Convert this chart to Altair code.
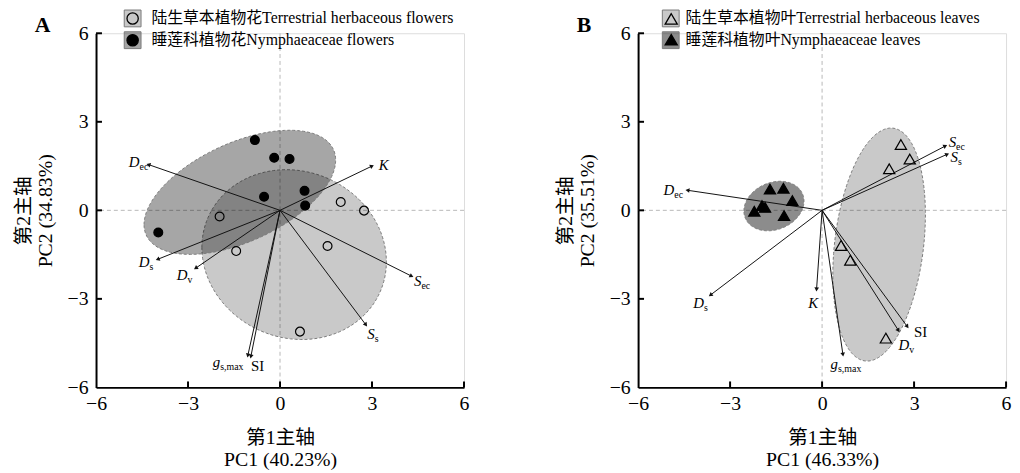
import altair as alt
import numpy as np
import pandas as pd

FONT = "Liberation Serif, Noto Sans CJK SC"
W, H = 372, 358
SX, SY = W / 12.0, H / 12.0

# ---------------- Panel A data (flowers) ----------------
A_groups = ["陆生草本植物花Terrestrial herbaceous flowers", "睡莲科植物花Nymphaeaceae flowers"]
A_terr_x = [-1.97, 1.98, 2.74, -1.43, 1.55, 0.65]
A_terr_y = [-0.21, 0.28, -0.01, -1.38, -1.21, -4.11]
A_nym_x = [-0.82, -0.19, 0.31, 0.80, 0.82, -0.52, -3.97]
A_nym_y = [2.38, 1.78, 1.74, 0.66, 0.16, 0.46, -0.75]

A_arrow_main = ["D", "K", "D", "D", "S", "S", "g", "SI"]
A_arrow_sub = ["ec", "", "s", "v", "ec", "s", "s,max", ""]
A_arrow_italic = [True, True, True, True, True, True, True, False]
A_tip_x = [-4.29, 3.00, -3.99, -2.75, 4.29, 2.80, -1.05, -0.95]
A_tip_y = [1.55, 1.50, -1.66, -1.96, -2.23, -3.88, -4.92, -4.95]
A_lab_x = [-4.58, 3.54, -4.26, -3.02, 4.61, 3.09, -1.95, -0.52]
A_lab_y = [1.64, 1.53, -1.75, -2.20, -2.40, -4.19, -5.15, -5.29]

# ellipse params: centre x, centre y, semi-major, semi-minor, angle (deg)
A_ell_cx = [0.46, -1.31]
A_ell_cy = [-1.50, 0.61]
A_ell_a = [3.08, 3.38]
A_ell_b = [2.80, 1.66]
A_ell_ang = [-31, 26]
A_ell_fill = ["rgba(0,0,0,0.21)", "rgba(0,0,0,0.35)"]

# ---------------- Panel B data (leaves) ----------------
B_groups = ["陆生草本植物叶Terrestrial herbaceous leaves", "睡莲科植物叶Nymphaeaceae leaves"]
B_terr_x = [2.57, 2.86, 2.19, 0.62, 0.92, 2.08]
B_terr_y = [2.23, 1.74, 1.41, -1.19, -1.69, -4.33]
B_nym_x = [-1.70, -1.26, -0.97, -1.96, -1.86, -2.21, -1.24]
B_nym_y = [0.72, 0.75, 0.33, 0.16, 0.10, -0.03, -0.18]

B_arrow_main = ["D", "S", "S", "D", "K", "g", "D", "SI"]
B_arrow_sub = ["ec", "ec", "s", "s", "", "s,max", "v", ""]
B_arrow_italic = [True, True, True, True, True, True, True, False]
B_tip_x = [-4.39, 4.02, 4.08, -3.64, -0.18, 0.68, 2.49, 2.78]
B_tip_y = [0.68, 2.18, 1.90, -2.87, -2.68, -4.89, -4.07, -3.94]
B_lab_x = [-4.82, 4.37, 4.43, -3.85, -0.13, 0.52, 2.84, 3.43]
B_lab_y = [0.68, 2.32, 1.81, -3.13, -3.13, -5.22, -4.56, -4.11]

B_ell_cx = [1.86, -1.57]
B_ell_cy = [-1.16, 0.145]
B_ell_a = [3.97, 1.02]
B_ell_b = [1.45, 0.79]
B_ell_ang = [83.5, 26]
B_ell_fill = ["rgba(0,0,0,0.21)", "rgba(0,0,0,0.45)"]

POINT_CODES = ["terrestrial", "nymphaeaceae"]
TICK_VALUES = [-6, -3, 0, 3, 6]
INNER_TICKS = [-3, 0, 3, 6]


def ellipse_df(cx, cy, a, b, ang_deg, grp, n=120):
    th = np.radians(ang_deg)
    c, s = np.cos(th), np.sin(th)
    A = c * c / a ** 2 + s * s / b ** 2
    B = 2 * c * s * (1 / a ** 2 - 1 / b ** 2)
    C = s * s / a ** 2 + c * c / b ** 2
    xmax = np.sqrt(4 * C / (4 * A * C - B * B))
    phi = np.linspace(np.pi, 0, n)
    dx = xmax * np.cos(phi)
    disc = np.clip(B * B * dx * dx - 4 * C * (A * dx * dx - 1), 0, None)
    top = (-B * dx + np.sqrt(disc)) / (2 * C)
    bot = (-B * dx - np.sqrt(disc)) / (2 * C)
    return pd.DataFrame({"x": cx + dx, "top": cy + top, "bot": cy + bot,
                         "egrp": grp})


def panel(groups, terr_x, terr_y, nym_x, nym_y, main, sub, italic, tx, ty, lx, ly,
          ecx, ecy, ea, eb, eang, efill, shape, xtitle, ytitle, letter, lab_off, lab_gap):
    xs = alt.Scale(domain=[-6, 6], nice=False, zero=False)
    ys = alt.Scale(domain=[-6, 6], nice=False, zero=False)
    common = dict(values=TICK_VALUES, ticks=False, grid=False, domainColor="black",
                  domainWidth=2, labelFont=FONT, labelFontSize=20, labelColor="black",
                  labelFlush=False, labelOverlap=False, titleFont=FONT, titleFontSize=20,
                  titleFontWeight="normal", titleColor="black", titleLineHeight=22)
    ax = alt.Axis(title=xtitle, labelPadding=6, titlePadding=15, **common)
    ay = alt.Axis(title=ytitle, labelPadding=8, titlePadding=12, **common)

    def X(f):
        return alt.X(f, type="quantitative", scale=xs, axis=ax)

    def Y(f):
        return alt.Y(f, type="quantitative", scale=ys, axis=ay)

    ell = pd.concat([ellipse_df(ecx[k], ecy[k], ea[k], eb[k], eang[k], groups[k])
                     for k in range(2)], ignore_index=True)
    pts = pd.concat([
        pd.DataFrame({"x": terr_x, "y": terr_y, "pgrp": POINT_CODES[0]}),
        pd.DataFrame({"x": nym_x, "y": nym_y, "pgrp": POINT_CODES[1]}),
    ], ignore_index=True)
    arr = pd.DataFrame({"main": main, "sub": sub, "italic": italic, "tx": tx, "ty": ty,
                        "lx": lx, "ly": ly})
    arr["x0"] = 0.0
    arr["y0"] = 0.0
    arr["ang"] = (np.degrees(np.arctan2(arr["tx"] * SX, arr["ty"] * SY)) + 360) % 360
    zero = pd.DataFrame({"v": [0.0]})
    ticks = pd.DataFrame({"v": INNER_TICKS})

    zline_v = alt.Chart(zero).mark_rule(color="#b8b8b8", strokeDash=[4, 3], strokeWidth=1).encode(x=X("v"))
    zline_h = alt.Chart(zero).mark_rule(color="#b8b8b8", strokeDash=[4, 3], strokeWidth=1).encode(y=Y("v"))

    ellipses = alt.Chart(ell).mark_area(stroke="#7a7a7a", strokeDash=[3, 2], strokeWidth=1,
                                        opacity=1, interpolate="linear", orient="vertical").encode(
        x=X("x"),
        y=alt.Y("top", type="quantitative", scale=ys, axis=ay, stack=None),
        y2="bot",
        detail="egrp:N",
        color=alt.Color("egrp:N", scale=alt.Scale(domain=groups, range=efill),
                        legend=alt.Legend(orient="none", legendX=lab_off, legendY=-24,
                                          title=None, symbolType="square", symbolSize=289,
                                          symbolStrokeColor="#7a7a7a", symbolStrokeWidth=1,
                                          symbolOpacity=1, labelFont=FONT, labelFontSize=16,
                                          labelColor="black", labelOffset=lab_gap, rowPadding=0,
                                          padding=0, labelLimit=400)),
    )

    arrows = alt.Chart(arr).mark_rule(color="#111111", strokeWidth=1).encode(
        x=X("x0"), y=Y("y0"), x2="tx", y2="ty")
    heads = alt.Chart(arr).mark_point(shape="triangle-up", filled=True, size=22, color="#111111",
                                      opacity=1).encode(
        x=X("tx"), y=Y("ty"), angle=alt.Angle("ang:Q", scale=None))

    points = alt.Chart(pts).mark_point(shape=shape, stroke="black", strokeWidth=1.2,
                                       size=(80 if shape == "circle" else 130), opacity=1).encode(
        x=X("x"), y=Y("y"),
        fill=alt.Fill("pgrp:N", scale=alt.Scale(domain=POINT_CODES, range=["transparent", "black"]),
                      legend=alt.Legend(orient="none", legendX=lab_off, legendY=-21.5,
                                        title=None, symbolType=shape,
                                        symbolSize=(130 if shape == "circle" else 150),
                                        symbolStrokeColor="black", symbolStrokeWidth=1.3,
                                        symbolOpacity=1, labelExpr="''", rowPadding=5,
                                        padding=0, symbolOffset=2.5)),
    )

    lab_it = alt.Chart(arr).transform_filter("datum.italic").mark_text(
        align="right", baseline="middle", font=FONT, fontSize=15, fontStyle="italic",
        color="black").encode(x=X("lx"), y=Y("ly"), text="main:N")
    lab_up = alt.Chart(arr).transform_filter("!datum.italic").mark_text(
        align="right", baseline="middle", font=FONT, fontSize=15,
        color="black").encode(x=X("lx"), y=Y("ly"), text="main:N")
    lab_sub = alt.Chart(arr).transform_filter("datum.sub != ''").mark_text(
        align="left", baseline="middle", font=FONT, fontSize=10, dy=5,
        color="black").encode(x=X("lx"), y=Y("ly"), text="sub:N")

    xt = alt.Chart(ticks).mark_rule(color="black", strokeWidth=2).encode(
        x=X("v"), y=alt.value(H), y2=alt.value(H - 6))
    yt = alt.Chart(ticks).mark_rule(color="black", strokeWidth=2).encode(
        y=Y("v"), x=alt.value(0), x2=alt.value(6))

    return alt.layer(zline_v, zline_h, ellipses, arrows, heads, points, lab_it, lab_up,
                     lab_sub, xt, yt).properties(
        width=W, height=H,
        title=alt.TitleParams(letter, anchor="start", frame="group", dx=-62, dy=34, fontSize=22,
                              font=FONT, fontWeight="bold", color="black", offset=6),
    )


pA = panel(A_groups, A_terr_x, A_terr_y, A_nym_x, A_nym_y, A_arrow_main, A_arrow_sub,
           A_arrow_italic, A_tip_x, A_tip_y, A_lab_x, A_lab_y,
           A_ell_cx, A_ell_cy, A_ell_a, A_ell_b, A_ell_ang, A_ell_fill, "circle",
           ["第1主轴", "PC1 (40.23%)"], ["第2主轴", "PC2 (34.83%)"], "A", 28, 10)
pB = panel(B_groups, B_terr_x, B_terr_y, B_nym_x, B_nym_y, B_arrow_main, B_arrow_sub,
           B_arrow_italic, B_tip_x, B_tip_y, B_lab_x, B_lab_y,
           B_ell_cx, B_ell_cy, B_ell_a, B_ell_b, B_ell_ang, B_ell_fill, "triangle-up",
           ["第1主轴", "PC1 (46.33%)"], ["第2主轴", "PC2 (35.51%)"], "B", 24, 6)

chart = alt.hconcat(pA, pB, spacing=86).resolve_scale(
    x="independent", y="independent", color="independent", fill="independent"
).resolve_legend(color="independent", fill="independent").properties(
    padding={"left": 5, "top": -2, "right": 0, "bottom": 0}
).configure_view(stroke=None).configure(background="white")

chart.save("out.html", embed_options={"renderer": "svg", "actions": False})
